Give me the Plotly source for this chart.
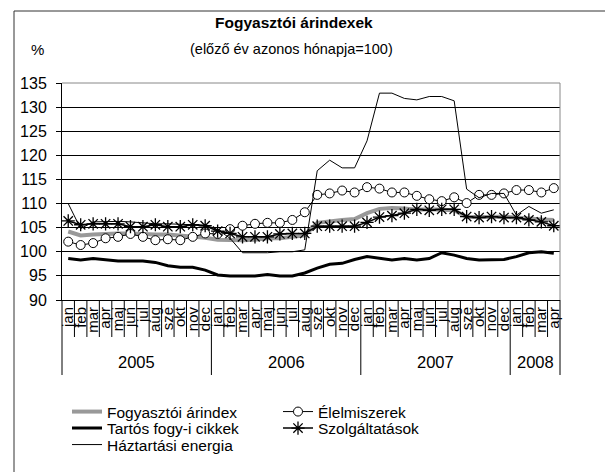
import plotly.graph_objects as go

months = ["jan", "feb", "mar", "apr", "maj", "jun", "jul", "aug", "sze", "okt", "nov", "dec"]
years = ["2005", "2006", "2007", "2008"]
months_per_year = [12, 12, 12, 4]

month_labels = []
keys = []
for y, n in zip(years, months_per_year):
    for m in months[:n]:
        month_labels.append(m)
        keys.append(f"{y} {m}")

fogyasztoi = [104.2, 103.4, 103.6, 103.8, 103.8, 103.8, 103.6, 103.6, 103.6, 103.4, 103.2, 102.9,
              102.5, 102.4, 102.4, 102.5, 102.8, 102.8, 103.0, 103.4, 106.0, 106.4, 106.6, 106.8,
              108.0, 108.9, 109.1, 109.0, 108.7, 108.8, 108.7, 108.6, 107.2, 107.1, 107.2, 107.3,
              107.2, 106.9, 106.7, 106.6]
elelmiszerek = [102.1, 101.4, 101.8, 102.8, 103.1, 103.7, 103.1, 102.4, 102.6, 102.4, 103.1, 103.8,
                103.7, 104.7, 105.4, 105.8, 106.0, 106.0, 106.6, 108.2, 111.8, 112.1, 112.7, 112.3,
                113.4, 113.1, 112.3, 112.3, 111.6, 110.9, 110.5, 111.3, 110.1, 111.8, 111.8, 112.1,
                112.8, 112.8, 112.3, 113.2]
tartos = [98.6, 98.3, 98.6, 98.4, 98.1, 98.1, 98.1, 97.8, 97.1, 96.8, 96.8, 96.2,
          95.2, 95.0, 95.0, 95.0, 95.3, 95.0, 95.0, 95.6, 96.6, 97.4, 97.6, 98.4,
          99.0, 98.6, 98.3, 98.6, 98.3, 98.6, 99.8, 99.3, 98.6, 98.3, 98.3, 98.4,
          99.0, 99.8, 100.0, 99.7]
szolgaltatasok = [106.4, 105.6, 105.8, 105.8, 105.8, 105.2, 105.2, 105.6, 105.2, 105.2, 105.6, 105.4,
                  104.3, 103.8, 103.1, 103.1, 103.1, 103.7, 103.8, 103.8, 105.3, 105.3, 105.3, 105.3,
                  106.1, 107.2, 107.5, 108.0, 108.8, 108.6, 108.8, 108.8, 107.3, 107.1, 107.3, 107.1,
                  107.1, 106.6, 106.2, 105.4]
haztartasi = [110.0, 104.8, 106.2, 106.3, 106.3, 106.2, 106.0, 105.8, 105.8, 105.7, 105.6, 105.5,
              104.6, 102.8, 99.8, 99.8, 99.8, 100.0, 100.0, 100.4, 116.8, 119.0, 117.4, 117.4,
              123.0, 132.9, 132.9, 131.8, 131.5, 132.2, 132.2, 131.3, 113.0, 111.2, 112.1, 112.1,
              107.6, 109.4, 108.0, 108.7]

y_ticks = [90, 95, 100, 105, 110, 115, 120, 125, 130, 135]

FONT = "Liberation Sans, Arial, Helvetica, sans-serif"
W, H = 605, 472
ML, MR, MT, MB = 62, 45, 83, 172
PW, PH = W - ML - MR, H - MT - MB

fig = go.Figure()
fig.add_trace(go.Scatter(x=keys, y=fogyasztoi, name="Fogyasztói árindex", mode="lines",
                         line=dict(color="#999999", width=4), legend="legend"))
fig.add_trace(go.Scatter(x=keys, y=elelmiszerek, name="Élelmiszerek", mode="lines+markers",
                         line=dict(color="black", width=1),
                         marker=dict(symbol="circle", size=9, color="white",
                                     line=dict(color="black", width=1)), legend="legend"))
fig.add_trace(go.Scatter(x=keys, y=tartos, name="Tartós fogy-i cikkek", mode="lines",
                         line=dict(color="black", width=3), legend="legend2"))
fig.add_trace(go.Scatter(x=keys, y=szolgaltatasok, name="Szolgáltatások", mode="lines+markers",
                         line=dict(color="black", width=1.5),
                         marker=dict(symbol="asterisk-open", size=11, color="black",
                                     line=dict(color="black", width=1.3)), legend="legend2"))
fig.add_trace(go.Scatter(x=keys, y=haztartasi, name="Háztartási energia", mode="lines",
                         line=dict(color="black", width=1), legend="legend3"))

n = len(keys)
shapes = []
# outer frame
shapes.append(dict(type="rect", xref="paper", yref="paper",
                   x0=(14 - ML) / PW, x1=(W + 10 - ML) / PW,
                   y0=-(H + 10 - MT - PH) / PH, y1=(MT - 11) / PH + 1,
                   line=dict(color="#333333", width=1), fillcolor="rgba(0,0,0,0)"))
# plot border top/right (gray)
shapes.append(dict(type="line", xref="paper", yref="paper", x0=0, x1=1, y0=1, y1=1,
                   line=dict(color="#888888", width=1)))
shapes.append(dict(type="line", xref="paper", yref="paper", x0=1, x1=1, y0=0, y1=1,
                   line=dict(color="#888888", width=1)))
# month separators and year dividers
boundaries = [0]
for c in months_per_year:
    boundaries.append(boundaries[-1] + c)
for i in range(n + 1):
    long = i in boundaries
    shapes.append(dict(type="line", xref="paper", yref="paper", x0=i / n, x1=i / n,
                       y0=0, y1=-(75 if long else 37) / PH,
                       line=dict(color="black", width=1)))

annotations = [
    dict(text="<b>Fogyasztói árindexek</b>", xref="paper", yref="paper",
         x=(294 - ML) / PW, y=1 + (MT - 23) / PH, showarrow=False,
         font=dict(size=15.5, family=FONT, color="black"), xanchor="center", yanchor="middle"),
    dict(text="(előző év azonos hónapja=100)", xref="paper", yref="paper",
         x=(291 - ML) / PW, y=1 + (MT - 49) / PH, showarrow=False,
         font=dict(size=14.5, family=FONT, color="black"), xanchor="center", yanchor="middle"),
    dict(text="%", xref="paper", yref="paper",
         x=(37 - ML) / PW, y=1 + (MT - 49) / PH, showarrow=False,
         font=dict(size=15, family=FONT, color="black"), xanchor="center", yanchor="middle"),
]
for k, y in enumerate(years):
    c = (boundaries[k] + boundaries[k + 1]) / 2 / n
    annotations.append(dict(text=y, xref="paper", yref="paper", x=c, y=-(362 - MT - PH) / PH,
                            showarrow=False, font=dict(size=16.5, family=FONT, color="black"),
                            xanchor="center", yanchor="middle"))

leg_common = dict(orientation="h", xref="container", yref="container", xanchor="left",
                  yanchor="middle", font=dict(size=15.5, family=FONT, color="black"),
                  bgcolor="rgba(0,0,0,0)", borderwidth=0, entrywidth=166, entrywidthmode="pixels",
                  itemwidth=30, tracegroupgap=0)

fig.update_layout(
    width=W, height=H,
    margin=dict(l=ML, r=MR, t=MT, b=MB, autoexpand=False),
    paper_bgcolor="white", plot_bgcolor="white",
    font=dict(family=FONT, size=14, color="black"),
    showlegend=True,
    legend=dict(x=67 / W, y=1 - 412 / H, **leg_common),
    legend2=dict(x=67 / W, y=1 - 428.5 / H, **leg_common),
    legend3=dict(x=67 / W, y=1 - 445 / H, **leg_common),
    xaxis=dict(type="category", categoryorder="array", categoryarray=keys,
               tickmode="array", tickvals=keys, ticktext=month_labels, tickangle=-90,
               ticks="", showgrid=False, showline=True, linecolor="black", linewidth=1,
               tickfont=dict(size=15, family=FONT, color="black"), automargin=False,
               range=[-0.5, n - 0.5], fixedrange=True),
    yaxis=dict(range=[90, 135], tickmode="array", tickvals=y_ticks,
               showgrid=True, gridcolor="black", gridwidth=1,
               ticks="outside", ticklen=5, tickcolor="black", ticklabelstandoff=6,
               showline=True, linecolor="black", linewidth=1, zeroline=False,
               tickfont=dict(size=16, family=FONT, color="black"), automargin=False),
    shapes=shapes,
    annotations=annotations,
)

fig.write_html("out.html", config={"displayModeBar": False},
               post_script="document.body.style.margin='0';document.body.style.overflow='hidden';")
